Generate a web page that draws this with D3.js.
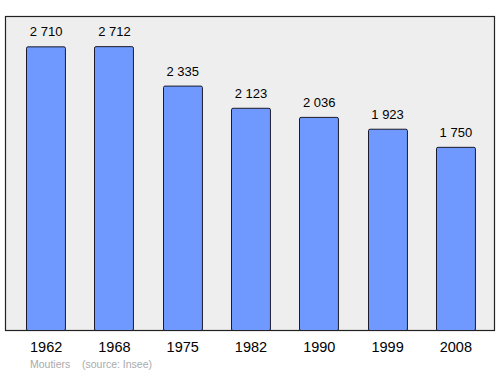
<!DOCTYPE html>
<html>
<head>
<meta charset="utf-8">
<script src="https://cdn.jsdelivr.net/npm/d3@7"></script>
<style>
  body { margin: 0; background: #fff; }
  text { font-family: "Liberation Sans", Arial, sans-serif; }
</style>
</head>
<body>
<svg id="chart" width="500" height="374"></svg>
<script>
const years = ['1962', '1968', '1975', '1982', '1990', '1999', '2008'];
const population = [2710, 2712, 2335, 2123, 2036, 1923, 1750];
const townName = 'Moutiers';
const sourceNote = '(source: Insee)';

const svg = d3.select('#chart');

const frame = {left: 5.5, top: 16.5, right: 494.5, bottom: 330.5};

const x = d3.scaleBand()
    .domain(years)
    .range([11.5, 489.5])
    .paddingInner(0.43)
    .paddingOuter(0.215);

const y = d3.scaleLinear()
    .domain([0, 3000])
    .range([frame.bottom, frame.bottom - 314]);

// plot background
svg.append('rect')
    .attr('x', frame.left)
    .attr('y', frame.top)
    .attr('width', frame.right - frame.left)
    .attr('height', frame.bottom - frame.top)
    .attr('fill', '#eeeeee')
    .attr('stroke', '#222')
    .attr('stroke-width', 1.2);

const fmt = v => d3.format(',')(v).replace(',', ' ');

const bars = svg.append('g');
years.forEach(function (yr, i) {
    const v = population[i];
    bars.append('rect')
        .attr('x', Math.round(x(yr)) + 0.5)
        .attr('y', y(v))
        .attr('width', x.bandwidth())
        .attr('height', frame.bottom - y(v))
        .attr('rx', 1.5)
        .attr('fill', '#7099ff')
        .attr('stroke', '#1a1a2a')
        .attr('stroke-width', 1);

    bars.append('text')
        .attr('x', x(yr) + x.bandwidth() / 2 + 0.5)
        .attr('y', y(v) - 10.5)
        .attr('text-anchor', 'middle')
        .attr('font-size', 13)
        .attr('fill', '#000')
        .text(fmt(v));

    svg.append('text')
        .attr('x', x(yr) + x.bandwidth() / 2 + 0.5)
        .attr('y', 352)
        .attr('text-anchor', 'middle')
        .attr('font-size', 14.5)
        .attr('fill', '#000')
        .text(yr);
});

// redraw the frame line along the bottom over the bars
svg.append('line')
    .attr('x1', frame.left).attr('x2', frame.right)
    .attr('y1', frame.bottom).attr('y2', frame.bottom)
    .attr('stroke', '#222').attr('stroke-width', 1.2);

svg.append('text')
    .attr('x', 30)
    .attr('y', 368)
    .attr('font-size', 10.5)
    .attr('fill', '#aaa')
    .text(townName);

svg.append('text')
    .attr('x', 82)
    .attr('y', 368)
    .attr('font-size', 10.5)
    .attr('fill', '#aaa')
    .text(sourceNote);
</script>
</body>
</html>
